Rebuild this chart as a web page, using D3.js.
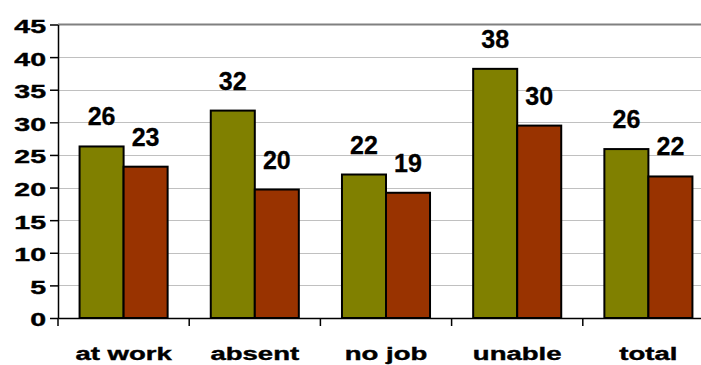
<!DOCTYPE html>
<html>
<head>
<meta charset="utf-8">
<script src="https://cdn.jsdelivr.net/npm/d3@7"></script>
<style>
html,body{margin:0;padding:0;background:#fff;overflow:hidden;}
svg{display:block;font-family:Arial,"Liberation Sans",sans-serif;font-weight:bold;}
</style>
</head>
<body>
<svg id="chart" width="701" height="365"></svg>
<script>
const categories = ["at work", "absent", "no job", "unable", "total"];
const seriesA = [26.3, 31.8, 22.0, 38.2, 25.9];
const seriesB = [23.2, 19.7, 19.2, 29.5, 21.7];
const yTicks = [0, 5, 10, 15, 20, 25, 30, 35, 40, 45];

const colors = ["#808000", "#993300"];
const svg = d3.select("#chart");
const mLeft = 58, mTop = 24.5, mBottom = 318, mRight = 714;

const x = d3.scaleBand().domain(categories).range([mLeft, mRight]).padding(0);
const inner = d3.scaleBand().domain([0, 1]).range([0, x.bandwidth()]).paddingInner(0).paddingOuter(0.49);
const y = d3.scaleLinear().domain([0, 45]).range([mBottom, mTop]);

// gridlines
svg.append("g").selectAll("line").data(yTicks.filter(d => d > 0 && d < 45)).join("line")
  .attr("x1", mLeft).attr("x2", 701)
  .attr("y1", d => Math.round(y(d)) + 0.5).attr("y2", d => Math.round(y(d)) + 0.5)
  .attr("stroke", "#c0c0c0").attr("stroke-width", 1);
svg.append("line").attr("x1", mLeft).attr("x2", 701).attr("y1", y(45)).attr("y2", y(45))
  .attr("stroke", "#808080").attr("stroke-width", 2);

// bars
const groups = svg.append("g").selectAll("g").data(categories).join("g")
  .attr("transform", d => `translate(${x(d)},0)`);
[seriesA, seriesB].forEach((s, si) => {
  groups.append("rect")
    .attr("x", inner(si))
    .attr("width", inner.bandwidth())
    .attr("y", (d, i) => y(s[i]))
    .attr("height", (d, i) => mBottom - y(s[i]))
    .attr("fill", colors[si]).attr("stroke", "#000").attr("stroke-width", 2);
  groups.append("text")
    .attr("x", inner(si) + inner.bandwidth() / 2)
    .attr("y", (d, i) => y(s[i]) - 21)
    .attr("text-anchor", "middle")
    .attr("font-size", 25).attr("fill", "#000")
    .attr("stroke", "#000").attr("stroke-width", 0.3)
    .text((d, i) => Math.round(s[i]));
});

// y axis
const sy = 1.5;
const yAxis = svg.append("g").attr("transform", `translate(${mLeft},0)`)
  .call(d3.axisLeft(y).tickValues(yTicks).tickSize(8).tickPadding(11).tickSizeOuter(0));
yAxis.select(".domain").attr("stroke", "#000").attr("stroke-width", 1.5);
yAxis.selectAll(".tick line").attr("stroke", "#000").attr("stroke-width", 1.5);
yAxis.selectAll(".tick text")
  .attr("font-size", 19).attr("font-family", "Arial, 'Liberation Sans', sans-serif")
  .attr("font-weight", "bold").attr("fill", "#000")
  .attr("stroke", "#000").attr("stroke-width", 0.4)
  .attr("dy", "0.42em")
  .attr("x", -12 / sy).attr("transform", `scale(${sy},1)`);

// x axis
const sx = 1.45;
const xAxis = svg.append("g").attr("transform", `translate(0,${mBottom})`)
  .call(d3.axisBottom(x).tickSize(0).tickPadding(0).tickSizeOuter(0));
xAxis.select(".domain").attr("stroke", "#000").attr("stroke-width", 1.5);
xAxis.selectAll(".tick").each(function () {
  const t = d3.select(this).attr("transform");
  const px = +/translate\(([-\d.]+)/.exec(t)[1];
  d3.select(this).attr("transform", `translate(${px},0)`);
});
xAxis.selectAll(".tick text")
  .attr("font-size", 19).attr("font-family", "Arial, 'Liberation Sans', sans-serif")
  .attr("font-weight", "bold").attr("fill", "#000")
  .attr("stroke", "#000").attr("stroke-width", 0.4)
  .attr("dy", null).attr("y", 42)
  .attr("transform", `scale(${sx},1)`);
// category separators
svg.append("g").selectAll("line").data(categories.map(c => x(c)).concat([x(categories[4]) + x.bandwidth()]))
  .join("line")
  .attr("x1", d => d).attr("x2", d => d).attr("y1", mBottom).attr("y2", mBottom + 8)
  .attr("stroke", "#000").attr("stroke-width", 1.5);
</script>
</body>
</html>
